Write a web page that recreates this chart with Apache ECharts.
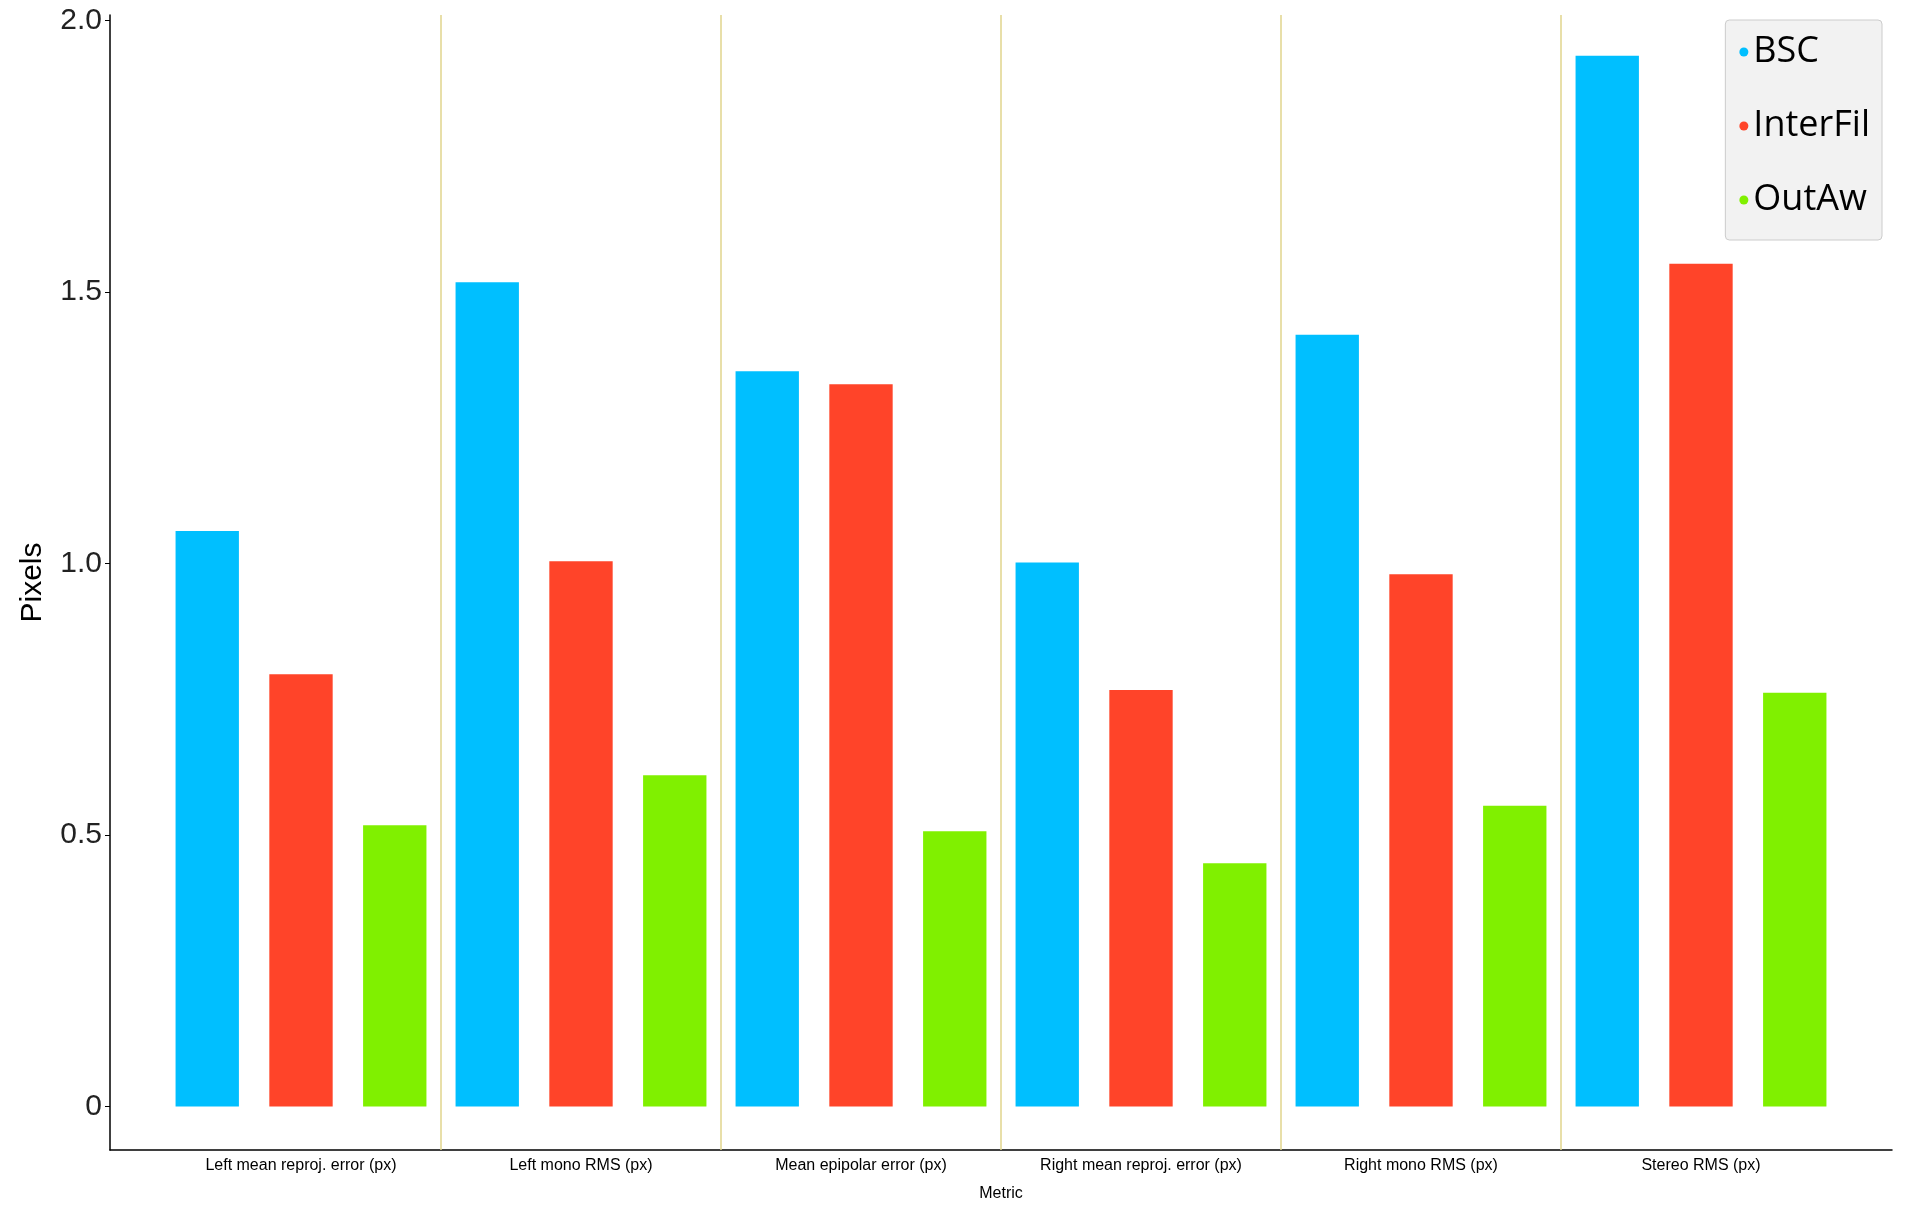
<!DOCTYPE html>
<html>
<head>
<meta charset="utf-8">
<script src="https://cdn.jsdelivr.net/npm/echarts@6/dist/echarts.min.js"></script>
<style>html,body{margin:0;padding:0;background:#fff}#chart{width:1908px;height:1221px}</style>
</head>
<body>
<div id="chart"></div>
<script>
var metrics = ['Left mean reproj. error (px)', 'Left mono RMS (px)', 'Mean epipolar error (px)',
    'Right mean reproj. error (px)', 'Right mono RMS (px)', 'Stereo RMS (px)'];
var data = {
    BSC: [1.06, 1.518, 1.354, 1.002, 1.421, 1.935],
    InterFil: [0.796, 1.004, 1.33, 0.767, 0.98, 1.552],
    OutAw: [0.518, 0.61, 0.507, 0.448, 0.554, 0.762]
};
var colors = {BSC: '#00bfff', InterFil: '#ff4429', OutAw: '#80f000'};
var pad = 0.183; // empty space at each end, in categories

var series = Object.keys(data).map(function (k) {
    return {
        name: k, type: 'bar', data: data[k],
        itemStyle: {color: colors[k]},
        barGap: '48%', barCategoryGap: '10.4%'
    };
});
// separators between metric groups
series.push({
    type: 'line', xAxisIndex: 1, yAxisIndex: 1, data: [],
    markLine: {
        silent: true, symbol: 'none', label: {show: false},
        lineStyle: {color: '#e0d48c', width: 1.5, type: 'solid'},
        data: [1, 2, 3, 4, 5].map(function (v) { return {xAxis: v}; })
    }
});

var chart = echarts.init(document.getElementById('chart'));
chart.setOption({
    animation: false,
    grid: [
        {left: 161, right: 67, top: 15, bottom: 71},
        {left: 110, right: 16, top: 15, bottom: 71}
    ],
    legend: {
        orient: 'vertical', right: 26, top: 20,
        backgroundColor: '#f2f2f2', borderColor: '#cccccc', borderWidth: 1, borderRadius: 4,
        padding: [14, 12, 22, 14], itemGap: 38, itemWidth: 9, itemHeight: 9, icon: 'circle',
        textStyle: {fontSize: 36, color: '#000', fontFamily: 'Open Sans', padding: [22, 0, 0, 0]},
        data: ['BSC', 'InterFil', 'OutAw']
    },
    xAxis: [{
        type: 'category', data: metrics, gridIndex: 0,
        name: 'Metric', nameLocation: 'middle', nameGap: 36,
        nameTextStyle: {fontSize: 16, color: '#000'},
        axisLine: {show: false},
        axisTick: {show: false},
        axisLabel: {fontSize: 16, color: '#000', margin: 8},
        splitLine: {show: false}
    }, {
        type: 'value', gridIndex: 1, min: -pad, max: 6 + pad,
        axisLine: {show: true, onZero: false, lineStyle: {color: '#000', width: 1.5}},
        axisTick: {show: false}, axisLabel: {show: false}, splitLine: {show: false}
    }],
    yAxis: [{
        type: 'value', gridIndex: 0, min: -0.08, max: 2.01, offset: 51,
        name: 'Pixels', nameLocation: 'middle', nameGap: 62,
        nameTextStyle: {fontSize: 30, color: '#000'},
        axisLine: {show: true, lineStyle: {color: '#000', width: 1.5}},
        axisTick: {show: true, customValues: [0, 0.5, 1, 1.5, 2], lineStyle: {color: '#000'}},
        axisLabel: {customValues: [0, 0.5, 1, 1.5, 2], fontSize: 30, color: '#222',
            formatter: function (v) { return v === 0 ? '0' : v.toFixed(1); }},
        splitLine: {show: false}
    }, {
        type: 'value', gridIndex: 1, min: 0, max: 1, show: false
    }],
    series: series
});
</script>
</body>
</html>
